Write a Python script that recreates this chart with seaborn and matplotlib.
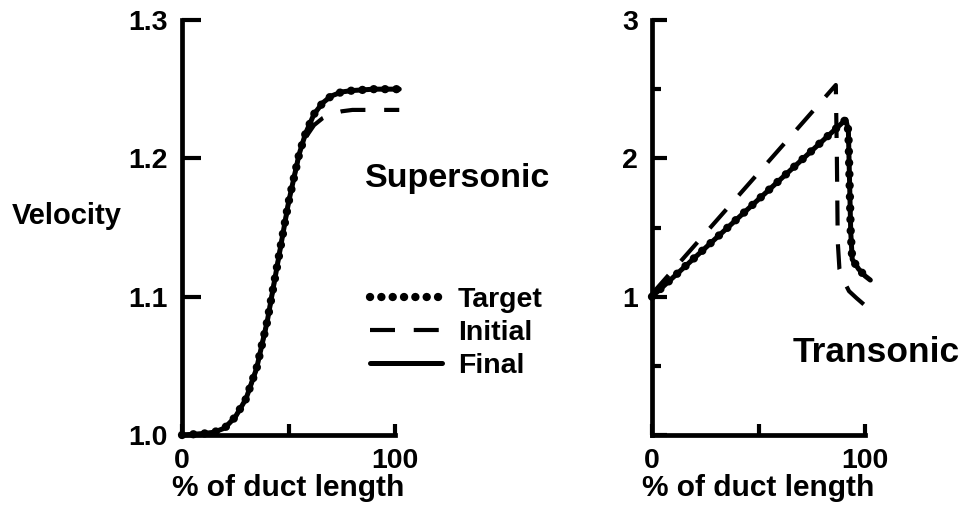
import matplotlib
matplotlib.use("Agg")
from matplotlib import pyplot as plt
import seaborn as sns

## Supersonic panel (velocity vs % of duct length)
sup_x = [0, 10, 15, 20, 25, 30, 35, 40, 45, 50, 55, 58, 62, 66, 70, 75, 80, 90, 102]
sup_target = [1.000, 1.001, 1.002, 1.005, 1.013, 1.026, 1.048, 1.082, 1.125, 1.168,
              1.203, 1.218, 1.232, 1.240, 1.245, 1.248, 1.249, 1.250, 1.250]
sup_initial = [1.000, 1.001, 1.002, 1.005, 1.013, 1.026, 1.048, 1.082, 1.125, 1.168,
               1.203, 1.215, 1.224, 1.229, 1.232, 1.234, 1.235, 1.235, 1.235]
sup_final = sup_target

## Transonic panel
tr_final_x = [0, 91, 92.2, 93.3, 94, 97, 100, 102.5]
tr_final_y = [1.0, 2.28, 2.2, 1.47, 1.27, 1.2, 1.15, 1.12]
tr_target_x = tr_final_x
tr_target_y = tr_final_y
tr_initial_x = [0, 86.3, 86.8, 87.2, 88, 90.5, 92.5, 96, 100.5]
tr_initial_y = [1.02, 2.53, 2.0, 1.4, 1.2, 1.1, 1.04, 0.99, 0.93]

sns.set_style("ticks")
plt.rcParams['font.family'] = ['Liberation Sans', 'DejaVu Sans']
plt.rcParams['font.weight'] = 'bold'
for key in ('text.color', 'axes.labelcolor', 'xtick.color', 'ytick.color', 'axes.edgecolor'):
    plt.rcParams[key] = 'black'

fig = plt.figure(figsize=(9.62, 5.07), dpi=100)
ax1 = fig.add_axes([182 / 962, 1 - 435 / 507, 213 / 962, 415 / 507])
ax2 = fig.add_axes([652 / 962, 1 - 435 / 507, 213 / 962, 415 / 507])

dot_kw = dict(color='black', lw=6.0, linestyle=(0, (0.01, 1.35)), dash_capstyle='round', clip_on=False)
dash_kw = dict(color='black', lw=3.0, linestyle=(0, (6, 4.5)), clip_on=False)
solid_kw = dict(color='black', lw=3.6, linestyle='-', clip_on=False)


def draw_series(ax, x, y, label, kw):
    sns.lineplot(x=x, y=y, ax=ax, sort=False, estimator=None, label=label, **kw)


draw_series(ax1, sup_x, sup_target, 'Target', dot_kw)
draw_series(ax1, sup_x, sup_initial, 'Initial', dash_kw)
draw_series(ax1, sup_x, sup_final, 'Final', solid_kw)

draw_series(ax2, tr_target_x, tr_target_y, None, dot_kw)
draw_series(ax2, tr_initial_x, tr_initial_y, None, dash_kw)
draw_series(ax2, tr_final_x, tr_final_y, None, solid_kw)

for ax in (ax1, ax2):
    ax.set_xlim(0, 100)
    ax.set_xticks([0, 50, 100])
    ax.set_xticklabels(['0', '', '100'])
    for side in ('top', 'right'):
        ax.spines[side].set_visible(False)
    for side in ('left', 'bottom'):
        ax.spines[side].set_linewidth(3.4)
    ax.tick_params(direction='in', width=3, labelsize=20.5, pad=9)
    ax.tick_params(axis='x', length=8)
    ax.set_xlabel('% of duct length', fontsize=21.5, fontweight='bold', labelpad=0)
    if ax.get_legend() is not None:
        ax.get_legend().remove()

ax1.set_ylim(1.0, 1.3)
ax1.set_yticks([1.0, 1.1, 1.2, 1.3])
ax1.set_yticklabels(['1.0', '1.1', '1.2', '1.3'])
ax1.tick_params(axis='y', length=14, pad=10)

ax2.set_ylim(0, 3)
ax2.set_yticks([0, 1, 2, 3])
ax2.set_yticklabels(['', '1', '2', '3'])
ax2.set_yticks([0.5, 1.5, 2.5], minor=True)
ax2.tick_params(axis='y', length=11, pad=10)
ax2.tick_params(axis='y', which='minor', direction='in', length=6.5, width=3)

ax1.set_ylabel('Velocity', rotation=0, fontsize=21, fontweight='bold')
ax1.yaxis.set_label_coords(-0.54, 0.494)

fig.text(365 / 962, 1 - 187 / 507, 'Supersonic', fontsize=24.5, fontweight='bold', ha='left', va='baseline')
fig.text(793 / 962, 1 - 362 / 507, 'Transonic', fontsize=25.5, fontweight='bold', ha='left', va='baseline')

handles, labels = ax1.get_legend_handles_labels()
fig.legend(handles, labels, loc='center left', bbox_to_anchor=(370 / 962, 1 - 333 / 507),
           frameon=False, fontsize=20.5, handlelength=2.53, handletextpad=0.56,
           labelspacing=0.26, borderpad=0, borderaxespad=0)

fig.savefig('out.png', dpi=100)
